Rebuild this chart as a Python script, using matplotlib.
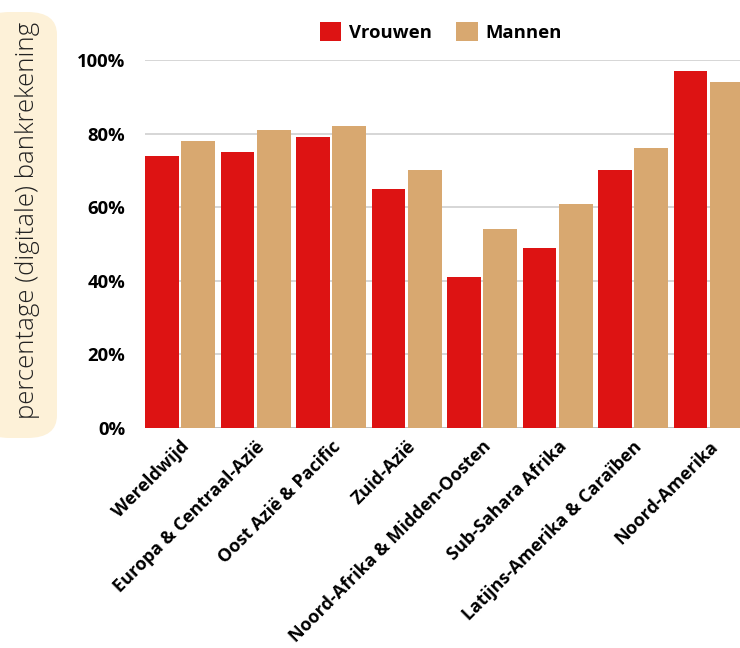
import numpy as np
import matplotlib.pyplot as plt
from matplotlib.patches import FancyBboxPatch

regions = ["Wereldwijd", "Europa & Centraal-Azië", "Oost Azië & Pacific", "Zuid-Azië",
           "Noord-Afrika & Midden-Oosten", "Sub-Sahara Afrika",
           "Latijns-Amerika & Caraïben", "Noord-Amerika"]
vrouwen = [74, 75, 79, 65, 41, 49, 70, 97]
mannen = [78, 81, 82, 70, 54, 61, 76, 94]
yticks = [0, 20, 40, 60, 80, 100]

plt.rcParams['font.family'] = ['Open Sans', 'DejaVu Sans']

fig = plt.figure(figsize=(7.4, 6.48), dpi=100)
ax = fig.add_axes([145 / 740, 220 / 648, 595 / 740, 368 / 648])

x = np.arange(len(regions))
w = 0.45
ax.bar(x - 0.24, vrouwen, w, color='#dd1313', label='Vrouwen', zorder=3)
ax.bar(x + 0.24, mannen, w, color='#d8a870', label='Mannen', zorder=3)

ax.set_xlim(-0.465, -0.465 + 595 / 75.5)
ax.set_ylim(0, 100)
ax.set_yticks(yticks)
ax.set_yticklabels([f"{v}%" for v in yticks], fontsize=13.3, fontweight='bold')
ax.set_xticks(x)
ax.set_xticklabels(regions, rotation=45, ha='right', rotation_mode='anchor',
                   fontsize=13, fontweight='bold')
ax.tick_params(axis='both', length=0)
ax.tick_params(axis='y', pad=14)
ax.tick_params(axis='x', pad=7)
ax.grid(axis='y', color='#d0d0d0', linewidth=1.2, zorder=0)
for s in ax.spines.values():
    s.set_visible(False)
ax.axhline(0, color='#bdbdbd', linewidth=2, zorder=2)

ax.legend(loc='center', bbox_to_anchor=(441 / 740, 1 - 32 / 648), bbox_transform=fig.transFigure,
          ncol=2, frameon=False, prop={'weight': 'bold', 'size': 13.3},
          handlelength=1.15, handleheight=1.15, columnspacing=1.3, handletextpad=0.45)

box = FancyBboxPatch((-20 / 740, 1 - 438 / 648), 77 / 740, 426 / 648,
                     boxstyle="round,pad=0,rounding_size=0.04",
                     transform=fig.transFigure, facecolor='#fdf1d8', edgecolor='none',
                     mutation_aspect=648 / 740)
fig.patches.append(box)
fig.text(28 / 740, 1 - 220 / 648, "percentage (digitale) bankrekening", rotation=90,
         ha='center', va='center', fontsize=18.5, fontweight='light', color='#222222')

fig.savefig('out.png', dpi=100)
